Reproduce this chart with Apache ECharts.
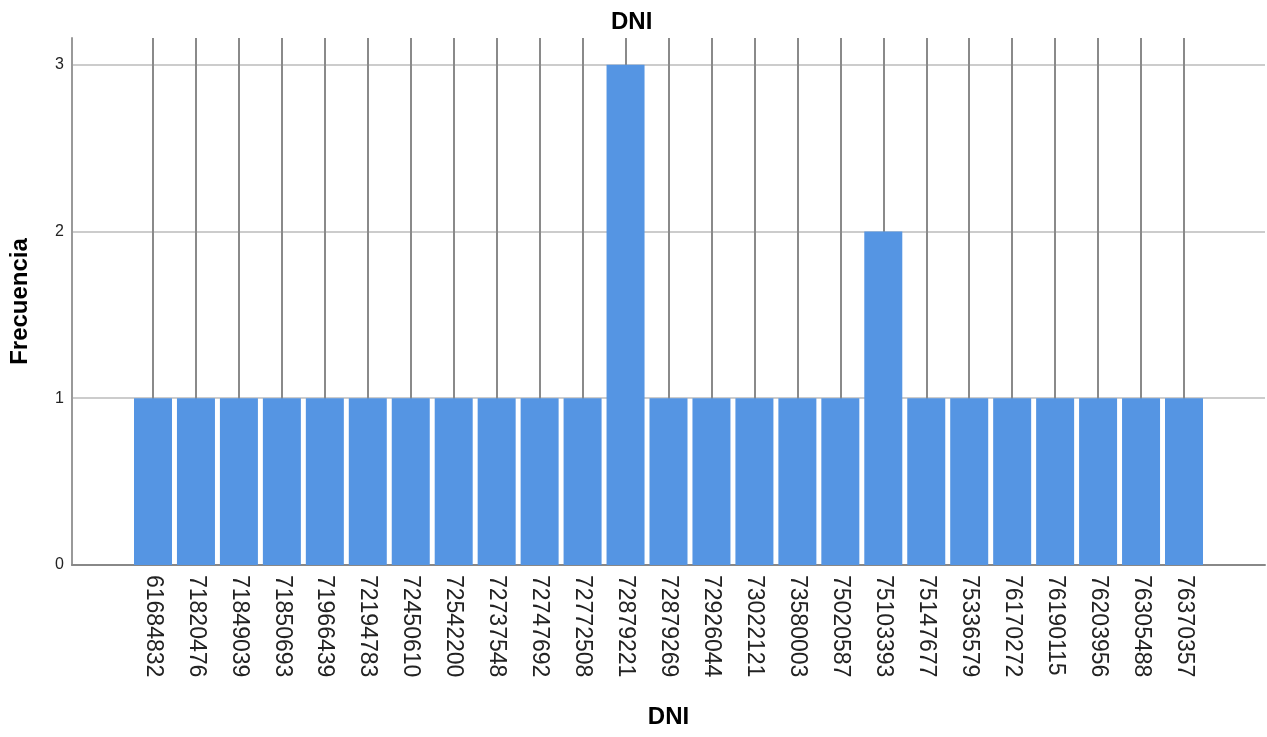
<!DOCTYPE html>
<html>
<head>
<meta charset="utf-8">
<script src="https://cdn.jsdelivr.net/npm/echarts@6/dist/echarts.min.js"></script>
<style>
html,body{margin:0;padding:0;background:#fff;}
#chart{width:1267px;height:737px;}
</style>
</head>
<body>
<div id="chart"></div>
<script>
const categories = ['61684832','71820476','71849039','71850693','71966439','72194783','72450610','72542200','72737548','72747692','72772508','72879221','72879269','72926044','73022121','73580003','75020587','75103393','75147677','75336579','76170272','76190115','76203956','76305488','76370357'];
const frecuencia = [1,1,1,1,1,1,1,1,1,1,1,3,1,1,1,1,1,2,1,1,1,1,1,1,1];
const yTicks = [0,1,2,3];

const FONT = '"Liberation Sans", Arial, sans-serif';
const chart = echarts.init(document.getElementById('chart'));
chart.setOption({
  backgroundColor: '#ffffff',
  animation: false,
  title: {
    text: 'DNI', left: 606, top: 5,
    textStyle: {fontFamily: FONT, fontSize: 24, fontWeight: 'bold', color: '#000'}
  },
  grid: [
    {left: 70, right: 2, top: 38, bottom: 172},
    {left: 153, right: 83, top: 38, bottom: 172}
  ],
  xAxis: [
    {
      gridIndex: 0, type: 'value', min: 0, max: 1,
      name: 'DNI', nameLocation: 'middle', nameGap: 140,
      nameTextStyle: {fontFamily: FONT, fontSize: 24, fontWeight: 'bold', color: '#000'},
      axisLine: {show: true, lineStyle: {color: '#888', width: 2}},
      axisTick: {show: false}, axisLabel: {show: false}, splitLine: {show: false}
    },
    {
      gridIndex: 1, type: 'category', boundaryGap: false, data: categories,
      axisLine: {show: false}, axisTick: {show: false},
      axisLabel: {interval: 0, rotate: -90, margin: 10, padding: [10, 0, 0, 0], fontFamily: FONT, fontSize: 23, color: '#222'},
      splitLine: {show: true, interval: 0, lineStyle: {color: '#8a8a8a', width: 2}}
    }
  ],
  yAxis: [
    {
      gridIndex: 0, type: 'value', min: 0, max: 3.16, interval: 1,
      name: 'Frecuencia', nameLocation: 'middle', nameGap: 40,
      nameTextStyle: {fontFamily: FONT, fontSize: 24, fontWeight: 'bold', color: '#000'},
      axisLine: {show: true, lineStyle: {color: '#999', width: 2}},
      axisTick: {show: false},
      axisLabel: {
        margin: 8, fontFamily: FONT, fontSize: 16, color: '#222',
        formatter: v => yTicks.indexOf(v) >= 0 ? String(v) : ''
      },
      splitLine: {show: true, showMaxLine: false, lineStyle: {color: '#cccccc', width: 2}}
    },
    {gridIndex: 1, type: 'value', min: 0, max: 3.16, show: false}
  ],
  series: [{
    type: 'bar', xAxisIndex: 1, yAxisIndex: 1,
    data: frecuencia, barWidth: 38, clip: false,
    itemStyle: {color: '#5595e3'}
  }]
});
</script>
</body>
</html>
